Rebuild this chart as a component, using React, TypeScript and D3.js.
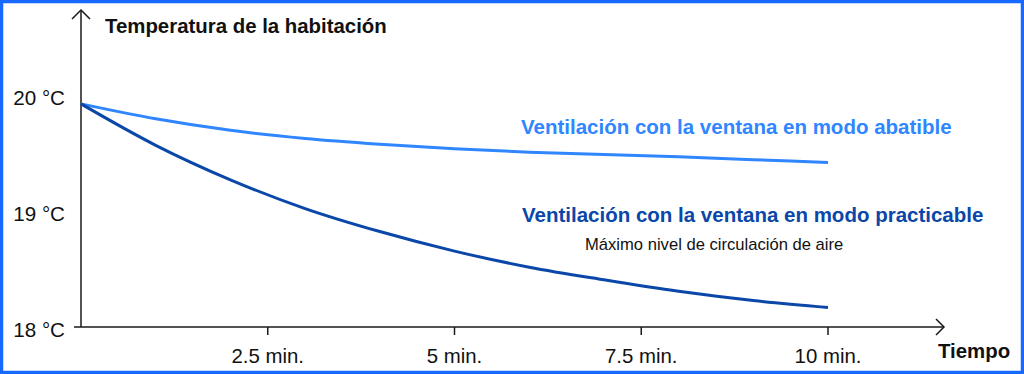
import React from 'react';
import * as d3 from 'd3';

// minutes since the window was opened
const minutes = [0, 1, 2, 3, 4, 5, 6, 7, 8, 9, 10];
// room temperature, tilt mode (°C)
const tiltTemps = [19.94, 19.81, 19.71, 19.64, 19.59, 19.55, 19.52, 19.5, 19.48, 19.455, 19.43];
// room temperature, fully open (°C)
const openTemps = [19.94, 19.58, 19.28, 19.03, 18.83, 18.66, 18.52, 18.41, 18.31, 18.23, 18.17];

const xTicks = [2.5, 5, 7.5, 10];
const xTickLabels = ['2.5 min.', '5 min.', '7.5 min.', '10 min.'];
const yTicks = [18, 19, 20];
const yTickLabels = ['18 °C', '19 °C', '20 °C'];

const yTitle = 'Temperatura de la habitación';
const xTitle = 'Tiempo';
const tiltLabel = 'Ventilación con la ventana en modo abatible';
const openLabel = 'Ventilación con la ventana en modo practicable';
const openNote = 'Máximo nivel de circulación de aire';

const width = 1024;
const height = 374;
const font = '"Liberation Sans", Arial, sans-serif';
const axisColor = '#1a1a1a';
const lightBlue = '#2f86ff';
const darkBlue = '#0a47a8';

const App = () => {
  const x = d3.scaleLinear().domain([0, 10]).range([81, 828]);
  const y = d3.scaleLinear().domain([18, 20]).range([327, 97]);

  const line = d3.line<number>()
    .x((_, i) => x(minutes[i]))
    .y(d => y(d))
    .curve(d3.curveMonotoneX);

  const x0 = x(0);
  const yBase = y(18);
  const xEnd = 944;
  const yTop = 10;

  return (
    <div style={{ position: 'absolute', left: 0, top: 0 }}>
      <svg width={width} height={height} style={{ display: 'block', fontFamily: font }}>
        <rect x={0} y={0} width={width} height={height} fill="#fff" />
        <rect x={1.5} y={1.5} width={width - 3} height={height - 3} fill="none" stroke="#1769ff" strokeWidth={3.5} />

        {/* axes */}
        <line x1={x0} y1={yBase} x2={x0} y2={yTop} stroke={axisColor} strokeWidth={1.5} />
        <polyline points={`${x0 - 9},${yTop + 9} ${x0},${yTop} ${x0 + 9},${yTop + 9}`} fill="none" stroke={axisColor} strokeWidth={1.5} />
        <line x1={74} y1={yBase} x2={xEnd} y2={yBase} stroke={axisColor} strokeWidth={1.5} />
        <polyline points={`${xEnd - 8},${yBase - 8} ${xEnd},${yBase} ${xEnd - 8},${yBase + 8}`} fill="none" stroke={axisColor} strokeWidth={1.5} />

        {xTicks.map((t, i) => (
          <g key={t}>
            <line x1={x(t)} x2={x(t)} y1={yBase} y2={yBase + 8} stroke={axisColor} strokeWidth={1.5} />
            <text x={x(t)} y={363} textAnchor="middle" fontSize={20.4} fill="#111">{xTickLabels[i]}</text>
          </g>
        ))}
        {yTicks.map((t, i) => (
          <text key={t} x={65} y={y(t) + 8 + (20 - t)} textAnchor="end" fontSize={20.6} fill="#111">{yTickLabels[i]}</text>
        ))}

        <text x={105} y={33} fontSize={20.4} fontWeight="bold" fill="#111">{yTitle}</text>
        <text x={938} y={358} fontSize={20.4} fontWeight="bold" fill="#111">{xTitle}</text>

        {/* series */}
        <path d={line(tiltTemps) || ''} fill="none" stroke={lightBlue} strokeWidth={3} />
        <path d={line(openTemps) || ''} fill="none" stroke={darkBlue} strokeWidth={3} />

        <text x={521} y={134} fontSize={20.5} fontWeight="bold" fill={lightBlue}>{tiltLabel}</text>
        <text x={522} y={222} fontSize={20.5} fontWeight="bold" fill={darkBlue}>{openLabel}</text>
        <text x={585} y={250} fontSize={16.6} fill="#111">{openNote}</text>
      </svg>
    </div>
  );
};

export default App;
